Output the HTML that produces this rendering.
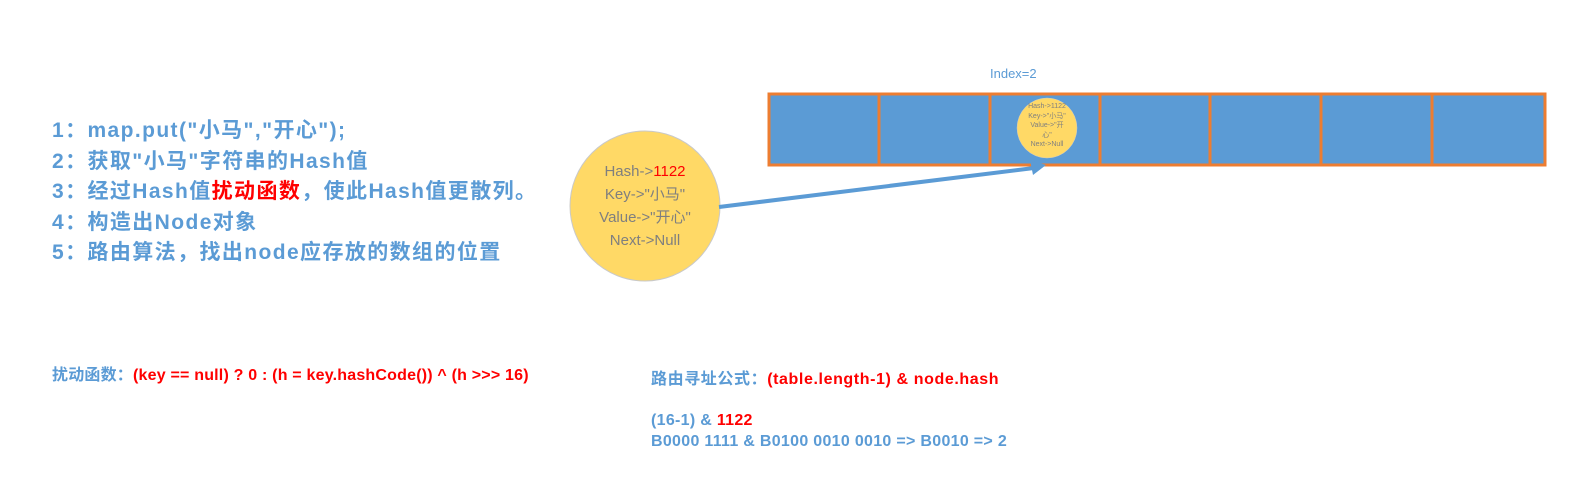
<!DOCTYPE html>
<html><head><meta charset="utf-8"><style>
body{margin:0;width:1579px;height:496px;background:#fff;position:relative;overflow:hidden;font-family:"Liberation Sans","Noto Sans CJK SC",sans-serif}
.t{position:absolute;white-space:nowrap;font-weight:bold;color:#5b9bd5}
.r{color:#ff0000}
.c{position:absolute;text-align:center;color:#7f7f7f;white-space:nowrap}
</style></head><body>
<svg width="1579" height="496" style="position:absolute;left:0;top:0">
<rect x="769" y="94" width="776" height="71" fill="#5b9bd5" stroke="#ed7d31" stroke-width="3"/>
<g stroke="#ed7d31" stroke-width="3">
<line x1="879" y1="94" x2="879" y2="165"/><line x1="990" y1="94" x2="990" y2="165"/>
<line x1="1100" y1="94" x2="1100" y2="165"/><line x1="1210" y1="94" x2="1210" y2="165"/>
<line x1="1321" y1="94" x2="1321" y2="165"/><line x1="1432" y1="94" x2="1432" y2="165"/>
</g>
<circle cx="1047" cy="128" r="30" fill="#ffd966" stroke="#c9c9c9" stroke-width="0.5"/>
<circle cx="645" cy="206" r="75" fill="#ffd966" stroke="#c9c9c9" stroke-width="1"/>
<line x1="719" y1="207" x2="1034" y2="168" stroke="#5b9bd5" stroke-width="4"/>
<polygon points="1046,165 1030,160 1033,175" fill="#5b9bd5"/>
</svg>
<div class="t" style="left:990px;top:66px;font-weight:normal;font-size:13px">Index=2</div>
<div class="t" style="left:52px;top:116px;font-size:21px;letter-spacing:1.4px;line-height:30.5px">
1：map.put("小马","开心");<br>2：获取"小马"字符串的Hash值<br>3：经过Hash值<span class="r">扰动函数</span>，使此Hash值更散列。<br>4：构造出Node对象<br>5：路由算法，找出node应存放的数组的位置</div>
<div class="c" style="left:570px;top:160px;width:150px;font-size:15px;line-height:23px">Hash-&gt;<span style="color:#f00">1122</span><br>Key-&gt;"小马"<br>Value-&gt;"开心"<br>Next-&gt;Null</div>
<div class="c" style="left:1017px;top:102px;width:60px;font-size:7px;line-height:9.5px">Hash-&gt;1122<br>Key-&gt;"小马"<br>Value-&gt;"开<br>心"<br>Next-&gt;Null</div>
<div class="t" style="left:52px;top:361px;font-size:16px;letter-spacing:0.2px">扰动函数：<span class="r">(key == null) ? 0 : (h = key.hashCode()) ^ (h &gt;&gt;&gt; 16)</span></div>
<div class="t" style="left:651px;top:365px;font-size:16px;letter-spacing:0.6px">路由寻址公式：<span class="r">(table.length-1) &amp; node.hash</span></div>
<div class="t" style="left:651px;top:410px;font-size:16px;line-height:21px;letter-spacing:0.3px">(16-1) &amp; <span class="r">1122</span><br>B0000 1111 &amp; B0100 0010 0010 =&gt; B0010 =&gt; 2</div>
</body></html>
